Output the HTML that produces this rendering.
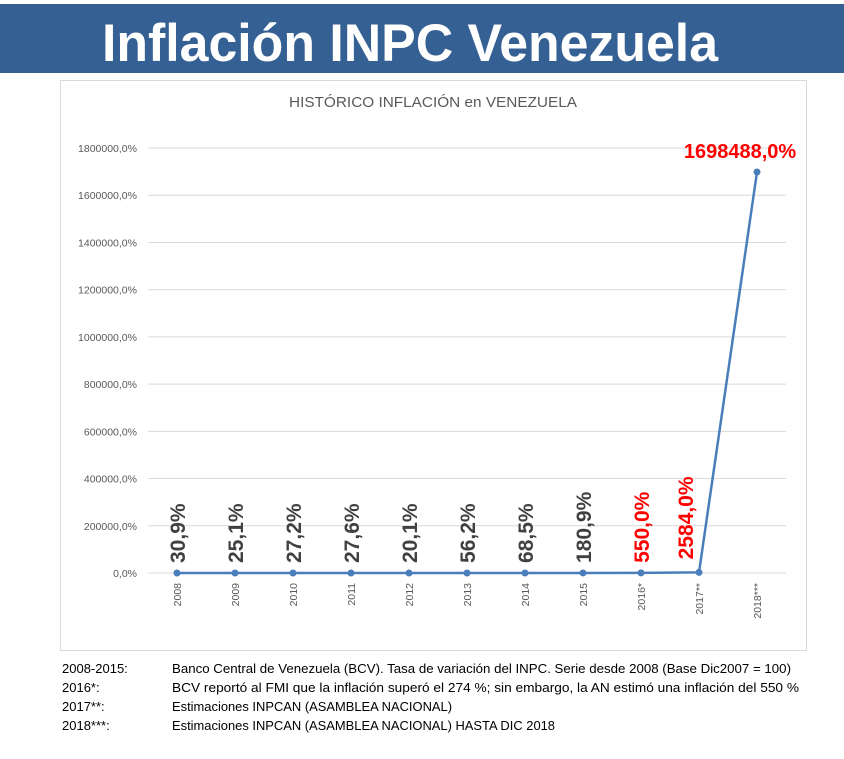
<!DOCTYPE html>
<html><head><meta charset="utf-8"><style>
html,body{margin:0;padding:0;background:#fff;}
svg{display:block;font-family:"Liberation Sans",sans-serif;}
</style></head><body>
<svg id="root" width="844" height="759" viewBox="0 0 844 759">
  <rect x="0" y="4" width="844" height="69" fill="#356094"/>
  <text x="102" y="61" font-size="53" font-weight="bold" fill="#fff" textLength="616" lengthAdjust="spacingAndGlyphs">Inflación INPC Venezuela</text>
  <rect x="60.5" y="80.5" width="746" height="570" fill="#fff" stroke="#d9d9d9"/>
  <text x="433" y="107" font-size="15" fill="#595959" text-anchor="middle" textLength="288" lengthAdjust="spacingAndGlyphs">HISTÓRICO INFLACIÓN en VENEZUELA</text>
  <g id="grid"></g><g id="yticks"></g><g id="xticks"></g><g id="series"></g><g id="labels"></g>
  <g font-size="13" fill="#000">
    <text x="62" y="673">2008-2015:</text>
    <text x="172" y="673" textLength="619" lengthAdjust="spacingAndGlyphs">Banco Central de Venezuela (BCV). Tasa de variación del INPC. Serie desde 2008 (Base Dic2007 = 100)</text>
    <text x="62" y="692">2016*:</text>
    <text x="172" y="692" textLength="627" lengthAdjust="spacingAndGlyphs">BCV reportó al FMI que la inflación superó el 274 %; sin embargo, la AN estimó una inflación del 550 %</text>
    <text x="62" y="711">2017**:</text>
    <text x="172" y="711" textLength="280" lengthAdjust="spacingAndGlyphs">Estimaciones INPCAN (ASAMBLEA NACIONAL)</text>
    <text x="62" y="730">2018***:</text>
    <text x="172" y="730" textLength="383" lengthAdjust="spacingAndGlyphs">Estimaciones INPCAN (ASAMBLEA NACIONAL) HASTA DIC 2018</text>
  </g>
</svg>
<script>
const categories = ["2008","2009","2010","2011","2012","2013","2014","2015","2016*","2017**","2018***"];
const values = [30.9,25.1,27.2,27.6,20.1,56.2,68.5,180.9,550.0,2584.0,1698488.0];
const valueLabels = ["30,9%","25,1%","27,2%","27,6%","20,1%","56,2%","68,5%","180,9%","550,0%","2584,0%","1698488,0%"];
const highlighted = [false,false,false,false,false,false,false,false,true,true,true];
const yTicks = [0,200000,400000,600000,800000,1000000,1200000,1400000,1600000,1800000];
const yTickLabels = ["0,0%","200000,0%","400000,0%","600000,0%","800000,0%","1000000,0%","1200000,0%","1400000,0%","1600000,0%","1800000,0%"];

const NS="http://www.w3.org/2000/svg";
const X0=177, XSTEP=58, Y0=573, YTOP=148, YMAX=1800000;
function xs(i){return X0+i*XSTEP;}
function ys(v){return Y0-(v/YMAX)*(Y0-YTOP);}
function mk(tag,attrs,parent){const e=document.createElementNS(NS,tag);for(const k in attrs)e.setAttribute(k,attrs[k]);parent.appendChild(e);return e;}

const grid=document.getElementById('grid'), yt=document.getElementById('yticks'), xt=document.getElementById('xticks'), se=document.getElementById('series'), lb=document.getElementById('labels');
yTicks.forEach((t,i)=>{
  const l=mk('line',{x1:148,x2:786,y1:ys(t),y2:ys(t),stroke:'#d9d9d9','stroke-width':1},grid);
  
  
  const tx=mk('text',{x:137,y:ys(t)+4,'font-size':10.5,fill:'#595959','text-anchor':'end'},yt);
  tx.textContent=yTickLabels[i];
  
  
});
categories.forEach((c,i)=>{
  const x=xs(i);
  const tx=mk('text',{x:0,y:0,'font-size':10.5,fill:'#595959','text-anchor':'end',transform:`translate(${x+4},583) rotate(-90)`},xt);
  tx.textContent=c;
  
  
});
const pts=values.map((v,i)=>xs(i)+','+ys(v)).join(' ');
const pl=mk('polyline',{points:pts,fill:'none',stroke:'#4a7ebb','stroke-width':2.5,'stroke-linejoin':'round'},se);


values.forEach((v,i)=>{
  const c=mk('circle',{cx:xs(i),cy:ys(v),r:3.5,fill:'#4a7ebb'},se);
  
  
  const last=i===values.length-1;
  const beforeJump=i===values.length-2;
  let t;
  if(last){
    t=mk('text',{x:xs(i)-17,y:ys(v)-14,'font-size':20,'font-weight':'bold',fill:'#ff0000','text-anchor':'middle'},lb);
  } else {
    const dx=beforeJump?-6:8;
    const dy=beforeJump?-13:-10;
    t=mk('text',{x:0,y:0,'font-size':21,'font-weight':'bold',fill:highlighted[i]?'#ff0000':'#404040','text-anchor':'start',transform:`translate(${xs(i)+dx},${ys(v)+dy}) rotate(-90)`},lb);
  }
  t.textContent=valueLabels[i];
  
  
});
</script>
</body></html>
